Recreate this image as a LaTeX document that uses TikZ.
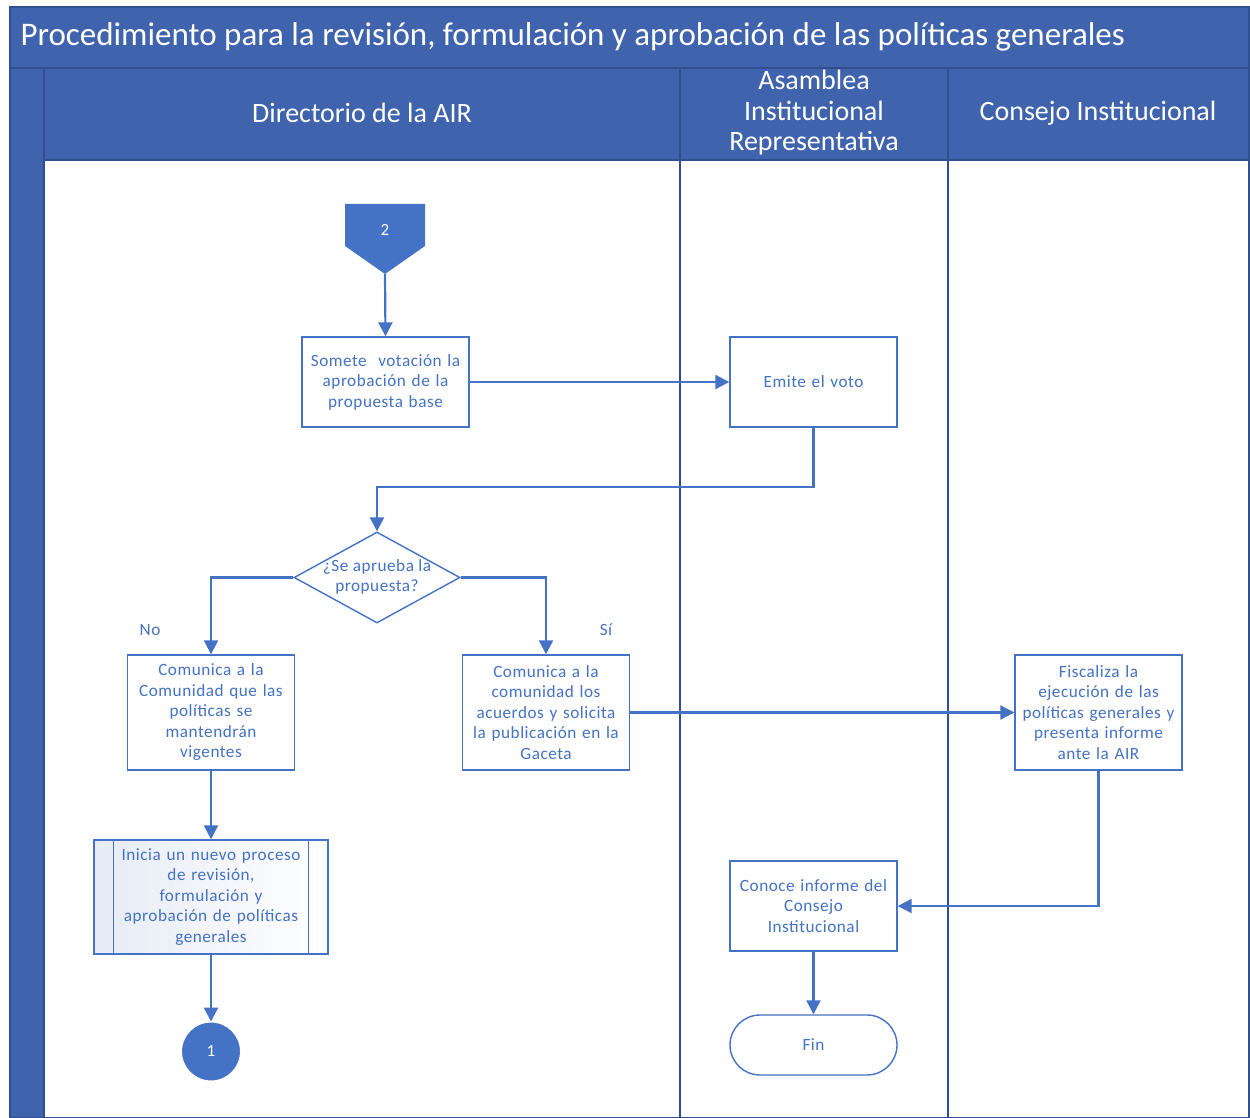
\documentclass[tikz,border=0pt]{standalone}
\usepackage{fontspec}
\setmainfont{Carlito}
\newfontfamily\boxfont[LetterSpace=3]{Carlito}
\usetikzlibrary{arrows.meta,shapes.geometric,shapes.misc}
\definecolor{hdr}{HTML}{3F63AD}
\definecolor{edgec}{HTML}{2F4F8F}
\definecolor{acc}{HTML}{4472C4}
\definecolor{spfill}{HTML}{E6EBF5}
\tikzset{
  x=1pt, y=-1pt,
  procbox/.style={draw=acc, line width=1.4pt, fill=white, rectangle, minimum width=167pt, minimum height=90pt, inner sep=0pt, text width=164pt, align=center, text=acc, font=\boxfont\fontsize{17.2}{20.5}\selectfont},
  arr/.style={draw=acc, line width=2.2pt, -{Triangle[length=14pt,width=14pt]}},
  hdrtext/.style={text=white, align=center, font=\fontsize{28}{30.5}\selectfont},
  lane/.style={draw=edgec, line width=1.6pt},
  lbl/.style={text=acc, font=\boxfont\fontsize{17.2}{20}\selectfont}
}
\begin{document}
\begin{tikzpicture}
\useasboundingbox (0,0) rectangle (1250,1118);
\fill[white] (0,0) rectangle (1250,1118);
% bands
\fill[hdr] (10,7) rectangle (1249,68);
\fill[hdr] (10,68) rectangle (44,1118);
\fill[hdr] (44,68) rectangle (1249,160);
\draw[lane] (10,7) rectangle (1249,1118);
\draw[lane] (10,68) -- (1249,68);
\draw[lane] (44,68) -- (44,1118);
\draw[lane] (44,160) -- (1249,160);
\draw[lane] (680,68) -- (680,1118);
\draw[lane] (948,68) -- (948,1118);
% titles
\node[text=white, anchor=west, font=\fontsize{33}{36}\selectfont] (title) at (17,37) {Procedimiento para la revisión, formulación y aprobación de las políticas generales};
\node[hdrtext] (l1) at (362,113) {Directorio de la AIR};
\node[hdrtext] (l2) at (814,113) {Asamblea\\Institucional\\Representativa};
\node[hdrtext] (l3) at (1098,113) {Consejo Institucional};
% off-page connector 2
\fill[acc] (345,204) -- (425,204) -- (425,246) -- (385,274) -- (345,246) -- cycle;
\node[text=white, font=\fontsize{17}{18}\selectfont] (c2) at (385,230) {2};
\coordinate (c2tip) at (385,274);
% process boxes
\node[procbox] (b1) at (385.5,382) {Somete\ \ votación la\\aprobación de la\\propuesta base};
\node[procbox] (b2) at (813.5,382) {Emite el voto};
\node[draw=acc, line width=1.4pt, fill=white, diamond, aspect=1.82, minimum width=166pt, minimum height=91pt, inner sep=0pt] (dec) at (377,577.5) {};
\node[text=acc, align=center, font=\boxfont\fontsize{17.2}{20.5}\selectfont] (dect) at (377,577) {¿Se aprueba la\\propuesta?};
\node[procbox, minimum height=115pt] (b3) at (211,712.5) {Comunica a la\\Comunidad que las\\políticas se\\mantendrán\\vigentes};
\node[procbox, minimum height=115pt] (b4) at (546,712.5) {Comunica a la\\comunidad los\\acuerdos y solicita\\la publicación en la\\Gaceta};
\node[procbox, minimum height=115pt] (b5) at (1098.5,712.5) {Fiscaliza la\\ejecución de las\\políticas generales y\\presenta informe\\ante la AIR};
\node[procbox, minimum width=234pt, minimum height=114pt, text width=210pt, left color=spfill, right color=white] (sp) at (211,897) {Inicia un nuevo proceso\\de revisión,\\formulación y\\aprobación de políticas\\generales};
\draw[draw=acc, line width=1.4pt] ([xshift=20pt]sp.north west) -- ([xshift=20pt]sp.south west);
\draw[draw=acc, line width=1.4pt] ([xshift=-20pt]sp.north east) -- ([xshift=-20pt]sp.south east);
\node[circle, fill=acc, draw=white, line width=1pt, minimum size=59pt, inner sep=0pt, text=white, font=\fontsize{17}{18}\selectfont] (c1) at (211,1051.5) {1};
\node[procbox] (b6) at (813.5,906) {Conoce informe del\\Consejo\\Institucional};
\node[draw=acc, line width=1.4pt, fill=white, rounded rectangle, minimum width=167pt, minimum height=60pt, inner sep=0pt, text=acc, font=\boxfont\fontsize{17.2}{20.5}\selectfont] (fin) at (813.5,1045) {Fin};
% labels
\node[lbl] (no) at (150,630) {No};
\node[lbl] (si) at (606,630) {Sí};
% connectors
\coordinate (j1) at (0,487);
\draw[arr] (c2tip) -- (b1.north);
\draw[arr] (b1.east) -- (b2.west);
\draw[arr] (b2.south) -- (b2.south |- j1) -| (dec.north);
\draw[arr] (dec.west) -| (b3.north);
\draw[arr] (dec.east) -| (b4.north);
\draw[arr] (b4.east) -- (b5.west);
\draw[arr] (b3.south) -- (sp.north);
\draw[arr] (sp.south) -- (c1.north);
\draw[arr] (b5.south) |- (b6.east);
\draw[arr] (b6.south) -- (fin.north);
\end{tikzpicture}
\end{document}
